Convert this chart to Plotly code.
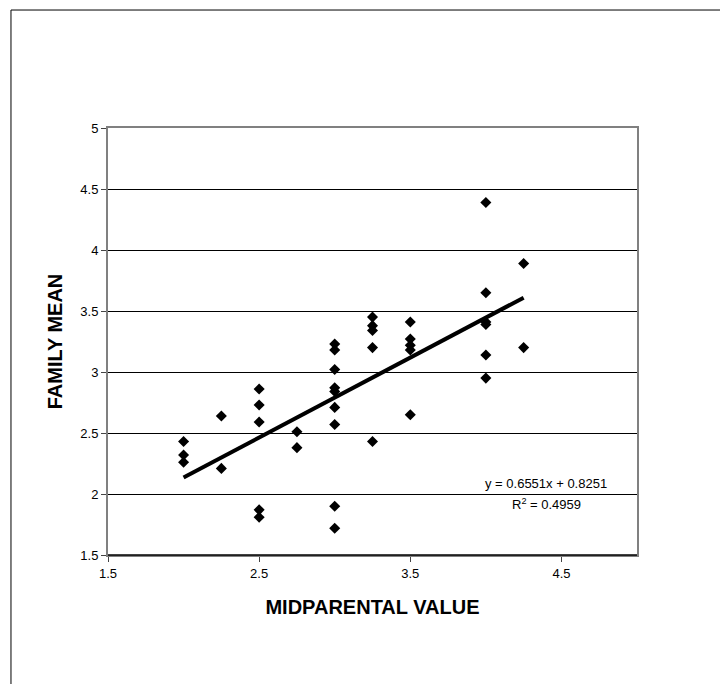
import plotly.graph_objects as go

# Data
midparental = [2.0, 2.0, 2.0,
               2.25, 2.25,
               2.5, 2.5, 2.5, 2.5, 2.5,
               2.75, 2.75,
               3.0, 3.0, 3.0, 3.0, 3.0, 3.0, 3.0, 3.0, 3.0,
               3.25, 3.25, 3.25, 3.25, 3.25,
               3.5, 3.5, 3.5, 3.5, 3.5,
               4.0, 4.0, 4.0, 4.0, 4.0, 4.0,
               4.25, 4.25]
family_mean = [2.43, 2.32, 2.26,
               2.64, 2.21,
               2.86, 2.73, 2.59, 1.87, 1.81,
               2.51, 2.38,
               3.23, 3.18, 3.02, 2.87, 2.84, 2.71, 2.57, 1.90, 1.72,
               3.45, 3.38, 3.34, 3.20, 2.43,
               3.41, 3.27, 3.22, 3.18, 2.65,
               4.39, 3.65, 3.41, 3.39, 3.14, 2.95,
               3.89, 3.20]

slope = 0.6551
intercept = 0.8251
r_squared = 0.4959
trend_x = [min(midparental), max(midparental)]
trend_y = [slope * v + intercept for v in trend_x]

y_ticks = [1.5, 2, 2.5, 3, 3.5, 4, 4.5, 5]
y_tick_labels = ["1.5", "2", "2.5", "3", "3.5", "4", "4.5", "5"]
x_ticks = [1.5, 2.5, 3.5, 4.5]
x_tick_labels = ["1.5", "2.5", "3.5", "4.5"]

FONT = "Liberation Sans, Arial, sans-serif"

fig = go.Figure()
fig.add_trace(go.Scatter(
    x=midparental, y=family_mean, mode="markers",
    marker=dict(symbol="diamond", size=8.5, color="black", line=dict(width=0)),
    showlegend=False, cliponaxis=False))
fig.add_trace(go.Scatter(
    x=trend_x, y=trend_y, mode="lines",
    line=dict(color="black", width=4), showlegend=False))

fig.update_layout(
    width=720, height=684,
    margin=dict(l=108, r=83, t=128, b=129),
    paper_bgcolor="white", plot_bgcolor="white",
    font=dict(family=FONT, color="black", size=13),
    xaxis=dict(range=[1.5, 5], tickvals=x_ticks, ticktext=x_tick_labels,
               showgrid=False, zeroline=False, ticks="outside", ticklen=5,
               tickcolor="#444", showline=True, linecolor="#808080", linewidth=2,
               mirror=True, tickfont=dict(size=13),
               title=dict(text="<b>MIDPARENTAL VALUE</b>", font=dict(size=20), standoff=20)),
    yaxis=dict(range=[1.5, 5], tickvals=y_ticks, ticktext=y_tick_labels,
               showgrid=True, gridcolor="black", gridwidth=1, zeroline=False,
               ticks="outside", ticklen=5, tickcolor="#444",
               showline=True, linecolor="#808080", linewidth=2, mirror=True,
               tickfont=dict(size=13),
               title=dict(text="<b>FAMILY MEAN</b>", font=dict(size=20), standoff=12)),
    annotations=[
        dict(x=4.40, y=2.09, xref="x", yref="y",
             text=f"y = {slope}x + {intercept}", showarrow=False,
             font=dict(size=13)),
        dict(x=4.40, y=1.915, xref="x", yref="y",
             text=f"R<sup>2</sup> = {r_squared}", showarrow=False,
             font=dict(size=13)),
    ],
    shapes=[
        dict(type="line", xref="paper", yref="paper", x0=-0.1834, x1=1.2, y0=1.2763, y1=1.2763,
             line=dict(color="black", width=1)),
        dict(type="line", xref="paper", yref="paper", x0=-0.1834, x1=-0.1834, y0=1.2763, y1=-0.35,
             line=dict(color="black", width=1)),
        dict(type="line", xref="paper", yref="paper", x0=0, x1=1, y0=0, y1=0,
             line=dict(color="black", width=1.5)),
    ],
)

fig.write_html("out.html", config={"displayModeBar": False},
               post_script="document.body.style.margin='0';document.body.style.overflow='hidden';")
